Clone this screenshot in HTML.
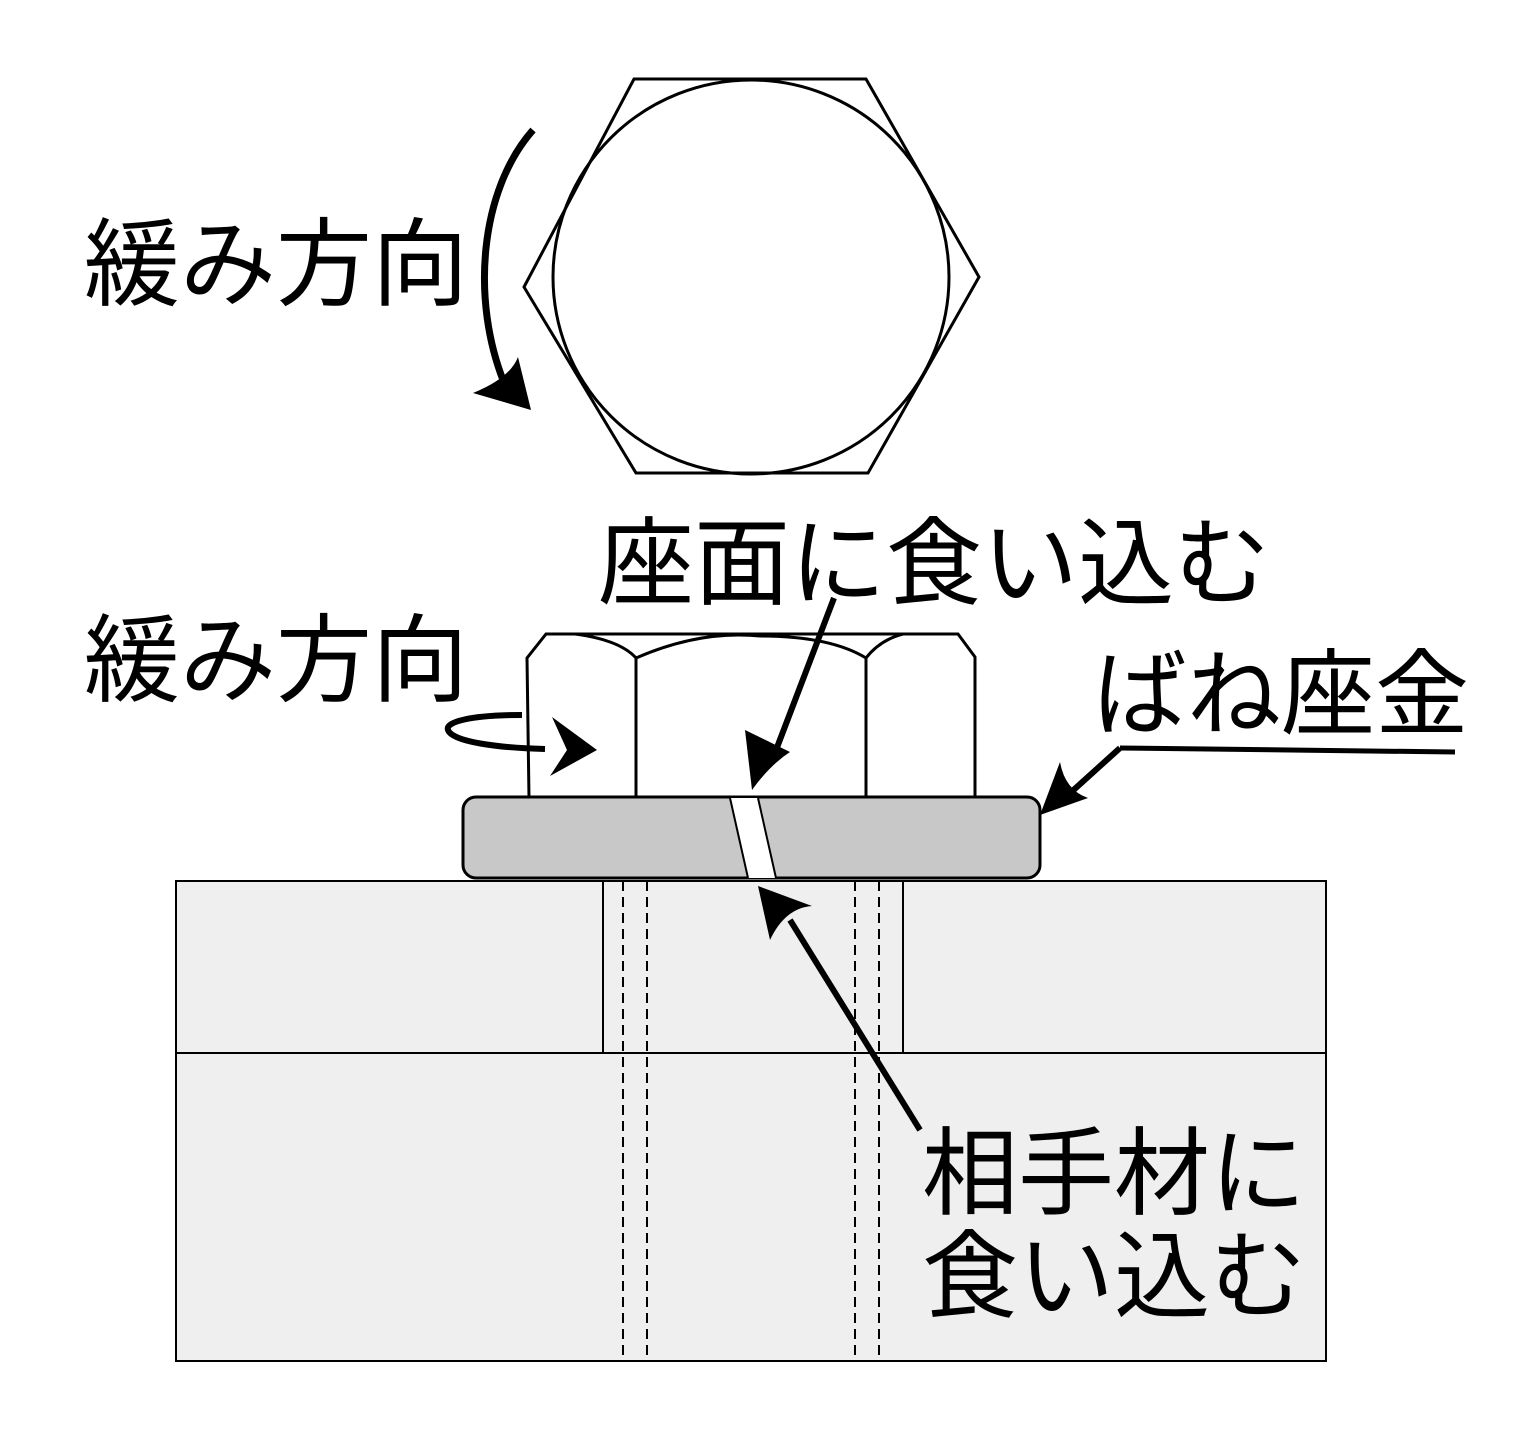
<!DOCTYPE html>
<html><head><meta charset="utf-8"><style>html,body{margin:0;padding:0;background:#fff}svg{display:block}</style></head>
<body>
<svg width="1536" height="1436" viewBox="0 0 1536 1436" xmlns="http://www.w3.org/2000/svg">
<!-- top hex -->
<polygon points="634,79 866,79 979,277 868,473 636,473 524,287" fill="none" stroke="#000" stroke-width="3"/>
<ellipse cx="751" cy="277" rx="198" ry="197" fill="none" stroke="#000" stroke-width="3"/>
<!-- curved arrow top -->
<path d="M533,130 C480,190 470,300 505,385" fill="none" stroke="#000" stroke-width="7"/>
<path d="M473,393 L531,410 L518,357 Q510,378 473,393 Z" fill="#000"/>
<!-- block -->
<rect x="176" y="881" width="1150" height="480" fill="#efefef" stroke="#000" stroke-width="2"/>
<line x1="176" y1="1053" x2="1326" y2="1053" stroke="#000" stroke-width="2"/>
<line x1="603" y1="881" x2="603" y2="1053" stroke="#000" stroke-width="2"/>
<line x1="903" y1="881" x2="903" y2="1053" stroke="#000" stroke-width="2"/>
<g stroke="#000" stroke-width="2" stroke-dasharray="10,6">
<line x1="623" y1="881" x2="623" y2="1361"/><line x1="647" y1="881" x2="647" y2="1361"/>
<line x1="855" y1="881" x2="855" y2="1361"/><line x1="879" y1="881" x2="879" y2="1361"/>
</g>
<!-- nut -->
<path d="M529,798 L527,658 L546,634 L958,634 L975,657 L975,798" fill="#fff" stroke="#000" stroke-width="3"/>
<line x1="636" y1="656" x2="636" y2="798" stroke="#000" stroke-width="3"/>
<line x1="866" y1="656" x2="866" y2="798" stroke="#000" stroke-width="3"/>
<path d="M575,634 Q620,640 636,658 Q700,630 760,636 Q830,636 866,658 Q880,640 903,634" fill="none" stroke="#000" stroke-width="3"/>
<!-- washer -->
<rect x="463" y="797" width="577" height="81" rx="13" fill="#c8c8c8" stroke="#000" stroke-width="3"/>
<polygon points="730,798 758,798 776,878 748,878" fill="#fff"/>
<line x1="730" y1="798" x2="748" y2="878" stroke="#000" stroke-width="2"/>
<line x1="758" y1="798" x2="776" y2="878" stroke="#000" stroke-width="2"/>
<!-- nut rotation arrow -->
<path d="M522,715 C470,715 445,722 448,730 C452,742 500,748 545,749" fill="none" stroke="#000" stroke-width="6"/>
<path d="M530,717 L575,750 L528,776 L545,750 Z" fill="#000" transform="translate(22,0)"/>
<!-- arrow to seat -->
<line x1="834" y1="598" x2="773" y2="758" stroke="#000" stroke-width="6"/>
<path d="M697,730 L704,790 Q722,765 742,752 Z" fill="#000" transform="translate(48,0)"/>
<!-- arrow to washer -->
<line x1="1455" y1="752" x2="1120" y2="748" stroke="#000" stroke-width="5"/>
<line x1="1120" y1="748" x2="1068" y2="795" stroke="#000" stroke-width="6"/>
<path d="M1040,815 L1060,762 Q1065,790 1088,798 Z" fill="#000"/>
<!-- arrow to block -->
<line x1="920" y1="1130" x2="790" y2="920" stroke="#000" stroke-width="6"/>
<path d="M758,886 L812,906 Q785,908 770,940 Z" fill="#000"/>
<g font-family="'Liberation Sans','Noto Sans CJK JP',sans-serif" font-size="96" fill="#000">
<text x="84" y="298">緩み方向</text>
<text x="84" y="694">緩み方向</text>
<text x="598" y="597">座面に食い込む</text>
<text x="1093" y="727" font-size="94">ばね座金</text>
<text x="922" y="1207">相手材に</text>
<text x="922" y="1310">食い込む</text>
</g>
</svg>
</body></html>
